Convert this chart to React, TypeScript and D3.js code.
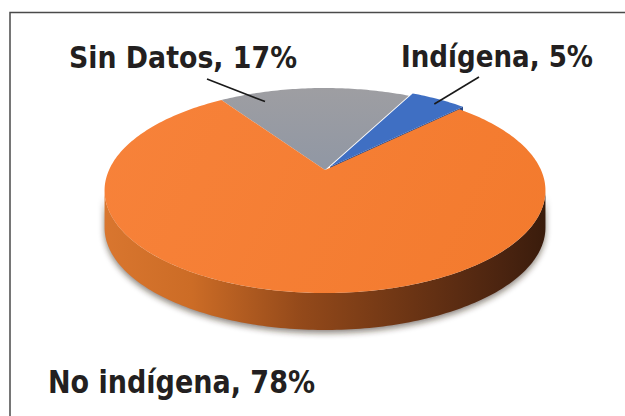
import * as d3 from "d3";

// slice data, clockwise from the back of the pie
const categories = ["Sin Datos", "Indígena", "No indígena"];
const values = [17, 5, 78];
const labels = ["Sin Datos, 17%", "Indígena, 5%", "No indígena, 78%"];
const topColors = ["#9b9ca0", "#3f6fc3", "#f57d32"];
const sideColors = ["#6f7074", "#27498a", "#b05a1e"];
const explode = [0, 0.04, 0];

const width = 625;
const height = 416;

// projection of the tilted disc
const cx = 325;
const cy = 170;
const rx = 216;
const ry = 98.4;
const persp = 0.2;
const depth = 37;

const deg = Math.PI / 180;

const proj = (a, r = 1, drop = 0, e = 0, mid = 0) => {
  const u = r * Math.sin(a) + e * Math.sin(mid);
  const v = r * Math.cos(a) + e * Math.cos(mid);
  const w = 1 + persp * v;
  return [cx + (rx * u) / w, cy - (ry * v) / w + drop];
};

const line = d3.line();

const arcPts = (a0, a1, drop, e, mid) => {
  const n = Math.max(2, Math.ceil(Math.abs(a1 - a0) / (1 * deg)));
  return d3.range(n + 1).map((i) => proj(a0 + ((a1 - a0) * i) / n, 1, drop, e, mid));
};

// label placement: x, baseline, textLength, fontSize, leader start, leader end fraction/radius
const labelPos = [
  { x: 69, y: 68, len: 228, size: 30, lx: 207, ly: 79, frac: 0.2, r: 0.87 },
  { x: 401, y: 67, len: 192, size: 30, lx: 479, ly: 77, frac: 0.55, r: 0.93 },
  { x: 48, y: 393, len: 267, size: 32, lx: null, ly: null, frac: 0.5, r: 0.5 },
];

const App = () => {
  const pie = d3
    .pie()
    .sort(null)
    .value((d) => d)
    .startAngle(-34 * deg)
    .endAngle(-34 * deg + 2 * Math.PI);
  const arcs = pie(values);

  const sideA0 = Math.acos(-persp);
  const sideA1 = 2 * Math.PI - sideA0;

  const slices = arcs.map((d, i) => {
    const mid = (d.startAngle + d.endAngle) / 2;
    const e = explode[i];
    const apex = proj(0, 0, 0, e, mid);
    const top = line([apex, ...arcPts(d.startAngle, d.endAngle, 0, e, mid)]) + "Z";
    // front curved side
    const s0 = Math.max(d.startAngle, sideA0);
    const s1 = Math.min(d.endAngle, sideA1);
    let side = null;
    if (s1 > s0) {
      const upper = arcPts(s0, s1, 0, e, mid);
      const lower = arcPts(s0, s1, depth, e, mid).reverse();
      side = line([...upper, ...lower]) + "Z";
    }
    // radial face visible when slice is pulled out
    let face = null;
    if (e > 0) {
      const a = d.endAngle;
      const p1 = proj(0, 0, 0, e, mid);
      const p2 = proj(a, 1, 0, e, mid);
      face = line([p1, p2, [p2[0], p2[1] + depth], [p1[0], p1[1] + depth]]) + "Z";
    }
    return { d, i, top, side, face, mid, e };
  });

  const sidePath = slices.find((s) => s.side)?.side;

  return (
    <svg
      width={width}
      height={height}
      style={{ position: "absolute", left: 0, top: 0, background: "#fff" }}
    >
      <defs>
        <linearGradient id="sideGrad" gradientUnits="userSpaceOnUse" x1={103} y1={0} x2={545} y2={0}>
          <stop offset="0" stopColor="#d9762f" />
          <stop offset="0.2" stopColor="#cc6c26" />
          <stop offset="0.45" stopColor="#93491a" />
          <stop offset="0.7" stopColor="#6b3414" />
          <stop offset="0.9" stopColor="#4b2410" />
          <stop offset="1" stopColor="#3a1c0c" />
        </linearGradient>
        <linearGradient id="orangeTop" gradientUnits="userSpaceOnUse" x1={110} y1={100} x2={540} y2={300}>
          <stop offset="0" stopColor="#f7823a" />
          <stop offset="1" stopColor="#f37a2d" />
        </linearGradient>
        <linearGradient id="grayTop" gradientUnits="userSpaceOnUse" x1={0} y1={88} x2={0} y2={170}>
          <stop offset="0" stopColor="#9e9ea2" />
          <stop offset="1" stopColor="#9097a4" />
        </linearGradient>
        <filter id="blur" x="-20%" y="-20%" width="140%" height="140%">
          <feGaussianBlur stdDeviation="3" />
        </filter>
      </defs>

      <rect x={10} y={12.5} width={700} height={500} fill="none" stroke="#4a4a4a" strokeWidth={1.5} />

      {sidePath && (
        <path d={sidePath} fill="#2a1a10" opacity={0.55} filter="url(#blur)" transform="translate(0,3)" />
      )}

      {slices.map((s) =>
        s.side ? (
          <path key={"side" + s.i} d={s.side} fill={s.i === 2 ? "url(#sideGrad)" : sideColors[s.i]} />
        ) : null
      )}

      {slices.map((s) =>
        s.face ? <path key={"face" + s.i} d={s.face} fill={sideColors[s.i]} /> : null
      )}

      {[1, 0, 2].map((i) => {
        const s = slices[i];
        const fill = i === 2 ? "url(#orangeTop)" : i === 0 ? "url(#grayTop)" : topColors[i];
        return <path key={"top" + i} d={s.top} fill={fill} />;
      })}

      {slices.map((s) => {
        const lp = labelPos[s.i];
        if (lp.lx == null) return null;
        const a = s.d.startAngle + (s.d.endAngle - s.d.startAngle) * lp.frac;
        const [ex, ey] = proj(a, lp.r, 0, s.e, s.mid);
        return (
          <line key={"lead" + s.i} x1={lp.lx} y1={lp.ly} x2={ex} y2={ey} stroke="#1a1a1a" strokeWidth={1.6} />
        );
      })}

      {labels.map((t, i) => {
        const lp = labelPos[i];
        return (
          <text
            key={categories[i]}
            x={lp.x}
            y={lp.y}
            textLength={lp.len}
            lengthAdjust="spacingAndGlyphs"
            fontFamily="'Liberation Sans Narrow', 'DejaVu Sans Condensed', 'Open Sans', sans-serif"
            fontWeight="bold"
            fontSize={lp.size}
            fill="#231f20"
          >
            {t}
          </text>
        );
      })}
    </svg>
  );
};

export default App;
